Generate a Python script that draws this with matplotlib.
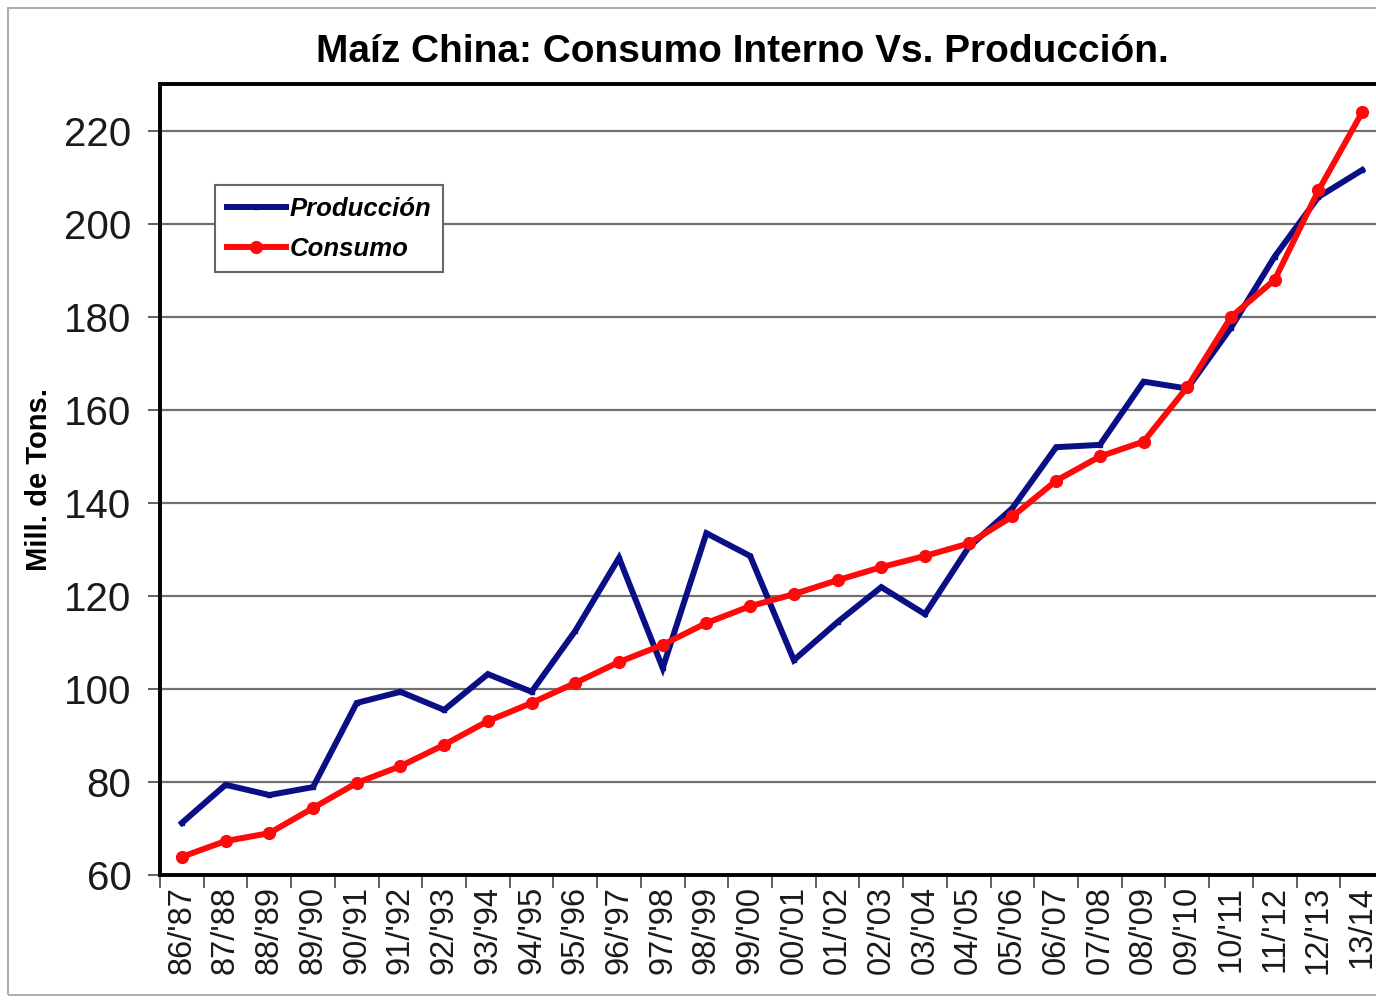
import matplotlib
matplotlib.use("Agg")
import matplotlib.pyplot as plt
from matplotlib.patches import Rectangle

categories = ["86/'87", "87/'88", "88/'89", "89/'90", "90/'91", "91/'92", "92/'93",
              "93/'94", "94/'95", "95/'96", "96/'97", "97/'98", "98/'99", "99/'00",
              "00/'01", "01/'02", "02/'03", "03/'04", "04/'05", "05/'06", "06/'07",
              "07/'08", "08/'09", "09/'10", "10/'11", "11/'12", "12/'13", "13/14"]

produccion = [71.2, 79.4, 77.2, 78.9, 97.0, 99.4, 95.5, 103.2, 99.4, 112.5, 128.2,
              104.5, 133.5, 128.6, 106.2, 114.4, 121.9, 116.1, 130.5, 138.9, 152.0,
              152.5, 166.1, 164.6, 177.7, 193.0, 205.8, 211.6]

consumo = [63.9, 67.3, 69.0, 74.4, 79.8, 83.4, 88.0, 93.1, 97.0, 101.3, 105.8,
           109.5, 114.2, 117.8, 120.4, 123.4, 126.2, 128.6, 131.3, 137.1, 144.8,
           150.0, 153.2, 164.9, 180.0, 188.0, 207.2, 224.0]

yticks = [60, 80, 100, 120, 140, 160, 180, 200, 220]

plt.rcParams['font.family'] = ['Liberation Sans', 'DejaVu Sans']

W, H = 1376, 1000
fig = plt.figure(figsize=(W / 100, H / 100), dpi=100)
fig.patch.set_facecolor('white')

# outer frame
fig.patches.append(Rectangle((8 / W, 5 / H), 1.2, 1 - 13 / H, transform=fig.transFigure,
                             fill=False, edgecolor='#b0b0b0', linewidth=1.5))

left, right, top, bottom = 160, 1384, 84, 875
ax = fig.add_axes([left / W, 1 - bottom / H, (right - left) / W, (bottom - top) / H])

x = list(range(len(categories)))
ax.plot(x, produccion, color='#0b0f86', linewidth=4.3, marker='s', markersize=3.5,
        label='Producción', zorder=3, solid_joinstyle='miter')
ax.plot(x, consumo, color='#ff0a0a', linewidth=4.3, marker='o', markersize=8.5,
        label='Consumo', zorder=4)

ax.set_xlim(-0.5, len(categories) - 0.5)
ax.set_ylim(60, 230.1)
ax.set_yticks(yticks)
ax.set_yticklabels([str(v) for v in yticks], fontsize=29, color='#1a1a1a')
ax.yaxis.grid(True, color='#707070', linewidth=1.6)
ax.set_axisbelow(True)

ax.set_xticks(x)
ax.set_xticklabels(categories, rotation=90, fontsize=23.5, color='#1a1a1a')
ax.set_xticks([i - 0.5 for i in range(len(categories) + 1)], minor=True)
ax.tick_params(axis='x', which='major', length=0, pad=8)
ax.tick_params(axis='x', which='minor', length=9, width=1.3, color='#555555')
ax.tick_params(axis='y', length=8.5, width=1.3, color='#555555', pad=12)

for s in ['left', 'bottom', 'top']:
    ax.spines[s].set_linewidth(2.8)
    ax.spines[s].set_color('black')
ax.spines['right'].set_visible(False)

ax.set_ylabel('Mill. de Tons.', fontsize=21, fontweight='bold', labelpad=8)

fig.text(742 / W, 1 - 52 / H, 'Maíz China: Consumo Interno Vs. Producción.',
         ha='center', va='center', fontsize=28, fontweight='bold')

leg = ax.legend(loc='upper left', bbox_to_anchor=(0.045, 0.872), borderaxespad=0,
                frameon=True, fancybox=False, edgecolor='#666666', framealpha=1,
                prop={'weight': 'bold', 'style': 'italic', 'size': 18.5},
                handlelength=2.3, handletextpad=0.15, borderpad=0.45, labelspacing=0.62)
leg.get_frame().set_linewidth(1.5)

fig.savefig('out.png', dpi=100)
